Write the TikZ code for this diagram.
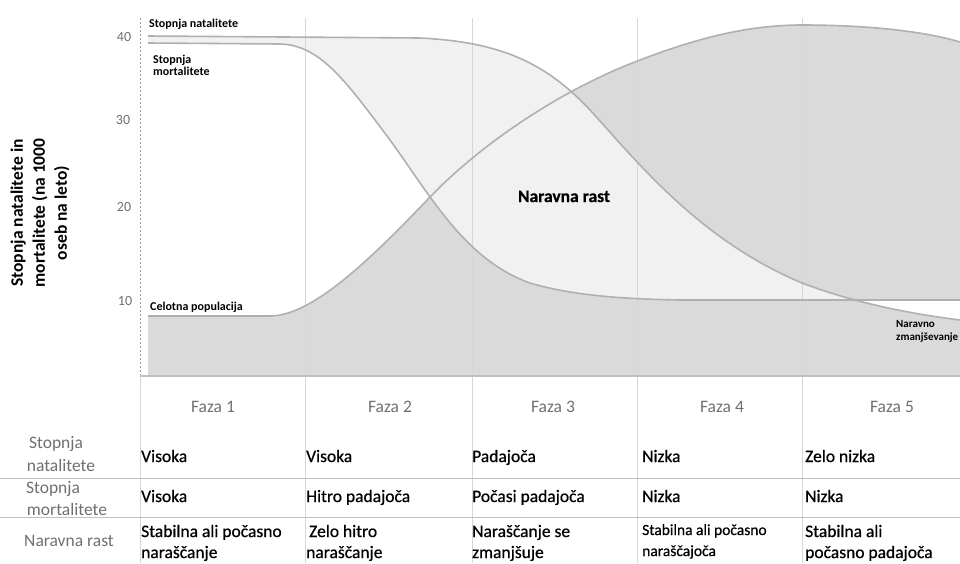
\documentclass[tikz,border=0pt]{standalone}
\usepackage{fontspec}
\setmainfont{Carlito}
\newfontfamily\semib[FakeBold=0.6]{Carlito}
\definecolor{curvec}{HTML}{B0B0B0}
\definecolor{popfill}{HTML}{DADADA}
\definecolor{incfill}{HTML}{F1F1F1}
\definecolor{gridc}{HTML}{D6D6D6}
\definecolor{labgray}{HTML}{707070}
\definecolor{axisc}{HTML}{9A9A9A}
\begin{document}
\begin{tikzpicture}[x=1pt,y=-1pt,
  curve/.style={draw=curvec,line width=1.6pt},
  gridline/.style={draw=gridc,line width=0.9pt},
  tblline/.style={draw=gridc!90!black,line width=1pt},
  tick/.style={text=labgray,font=\fontsize{14}{16}\selectfont,inner sep=0pt},
  small/.style={font=\bfseries\fontsize{12}{12}\selectfont,inner sep=0pt,anchor=base west},
  phase/.style={text=labgray,font=\fontsize{17.5}{21}\selectfont,inner sep=0pt,anchor=base},
  rowlab/.style={text=labgray,font=\fontsize{17.5}{21}\selectfont,inner sep=0pt,anchor=base},
  cell/.style={font=\semib\fontsize{17.5}{21}\selectfont,inner sep=0pt,anchor=base west},
  cellsm/.style={font=\semib\fontsize{15.5}{21}\selectfont,inner sep=0pt,anchor=base west}]
\useasboundingbox (0,0) rectangle (960,563);
\fill[white] (0,0) rectangle (960,563);

% population fill
\fill[popfill] (148,316) -- (270,316) .. controls (312,316) and (370,260) .. (430,197)
  .. controls (480,145) and (560,90) .. (640,60)
  .. controls (700,37) and (750,25) .. (802,25)
  .. controls (860,25) and (920,30) .. (960,42) -- (960,376) -- (148,376) -- cycle;

% natural increase / decrease regions
\begin{scope}
\clip (148,0) rectangle (854,376);
\fill[incfill] (148,36) -- (420,38) .. controls (500,42) and (545,62) .. (590,110)
  .. controls (640,165) and (700,240) .. (802,283)
  .. controls (860,305) and (920,315) .. (960,320) -- (960,300) -- (680,300)
  .. controls (620,299) and (570,295) .. (530,283)
  .. controls (465,260) and (430,195) .. (390,140)
  .. controls (345,80) and (320,45) .. (280,44) -- (148,43) -- cycle;
\end{scope}
\begin{scope}
\clip (854,0) rectangle (960,376);
\fill[white] (148,36) -- (420,38) .. controls (500,42) and (545,62) .. (590,110)
  .. controls (640,165) and (700,240) .. (802,283)
  .. controls (860,305) and (920,315) .. (960,320) -- (960,300) -- (680,300)
  .. controls (620,299) and (570,295) .. (530,283)
  .. controls (465,260) and (430,195) .. (390,140)
  .. controls (345,80) and (320,45) .. (280,44) -- (148,43) -- cycle;
\end{scope}

% vertical grid lines
\foreach \gx in {305,472,637,802} {\draw[gridline] (\gx,18) -- (\gx,563);}
\draw[gridline] (140,376) -- (140,563);
\draw[axisc,line width=1pt,dash pattern=on 2pt off 2pt] (140,18) -- (140,376);
\draw[draw=curvec!80,line width=1.6pt] (140,376) -- (960,376);

% curves
\draw[curve] (148,36) -- (420,38) .. controls (500,42) and (545,62) .. (590,110)
  .. controls (640,165) and (700,240) .. (802,283)
  .. controls (860,305) and (920,315) .. (960,320);
\draw[curve] (148,43) -- (280,44) .. controls (320,45) and (345,80) .. (390,140)
  .. controls (430,195) and (465,260) .. (530,283)
  .. controls (570,295) and (620,299) .. (680,300) -- (960,300);
\draw[curve] (148,316) -- (270,316) .. controls (312,316) and (370,260) .. (430,197)
  .. controls (480,145) and (560,90) .. (640,60)
  .. controls (700,37) and (750,25) .. (802,25)
  .. controls (860,25) and (920,30) .. (960,42);

% axis label and ticks
\node[rotate=90,align=center,font=\bfseries\fontsize{17.5}{22}\selectfont,inner sep=0pt] (ylab) at (40,213)
  {Stopnja natalitete in\\mortalitete (na 1000\\oseb na leto)};
\node[tick] (t40) at (124,37) {40};
\node[tick] (t30) at (123,120) {30};
\node[tick] (t20) at (124,207) {20};
\node[tick] (t10) at (125,301) {10};

% chart labels
\node[small] (lbirth) at (149,27) {Stopnja natalitete};
\node[small] (ldeatha) at (153,63) {Stopnja};
\node[small] (ldeathb) at (153,75) {mortalitete};
\node[small] (lpop) at (150,310) {Celotna populacija};
\node[font=\semib\bfseries\fontsize{17.5}{21}\selectfont,inner sep=0pt,anchor=base] (lrast) at (564,202) {Naravna rast};
\node[small,font=\bfseries\fontsize{11}{11}\selectfont] (ldecra) at (896,327) {Naravno};
\node[small,font=\bfseries\fontsize{11}{11}\selectfont] (ldecrb) at (896,340) {zmanjševanje};

% table
\draw[tblline] (0,478) -- (960,478);
\draw[tblline] (0,517) -- (960,517);

\node[phase] (f1) at (213,412) {Faza 1};
\node[phase] (f2) at (390,412) {Faza 2};
\node[phase] (f3) at (553,412) {Faza 3};
\node[phase] (f4) at (722,412) {Faza 4};
\node[phase] (f5) at (892,412) {Faza 5};

\node[rowlab] (r1a) at (56,448) {Stopnja};
\node[rowlab] (r1b) at (61,471) {natalitete};
\node[rowlab] (r2a) at (53,493) {Stopnja};
\node[rowlab] (r2b) at (67,515) {mortalitete};
\node[rowlab] (r3) at (69,546) {Naravna rast};

\node[cell] (c11) at (141,462) {Visoka};
\node[cell] (c12) at (306,462) {Visoka};
\node[cell] (c13) at (472,462) {Padajoča};
\node[cell] (c14) at (642,462) {Nizka};
\node[cell] (c15) at (805,462) {Zelo nizka};

\node[cell] (c21) at (141,502) {Visoka};
\node[cell] (c22) at (306,502) {Hitro padajoča};
\node[cell] (c23) at (472,502) {Počasi padajoča};
\node[cell] (c24) at (642,502) {Nizka};
\node[cell] (c25) at (805,502) {Nizka};

\node[cell] (c31a) at (141,537) {Stabilna ali počasno};
\node[cell] (c31b) at (141,558) {naraščanje};
\node[cell] (c32a) at (309,537) {Zelo hitro};
\node[cell] (c32b) at (306,558) {naraščanje};
\node[cell] (c33a) at (472,537) {Naraščanje se};
\node[cell] (c33b) at (472,558) {zmanjšuje};
\node[cellsm] (c34a) at (642,535) {Stabilna ali počasno};
\node[cellsm] (c34b) at (642,556) {naraščajoča};
\node[cell] (c35a) at (805,537) {Stabilna ali};
\node[cell] (c35b) at (805,558) {počasno padajoča};
\end{tikzpicture}
\end{document}
